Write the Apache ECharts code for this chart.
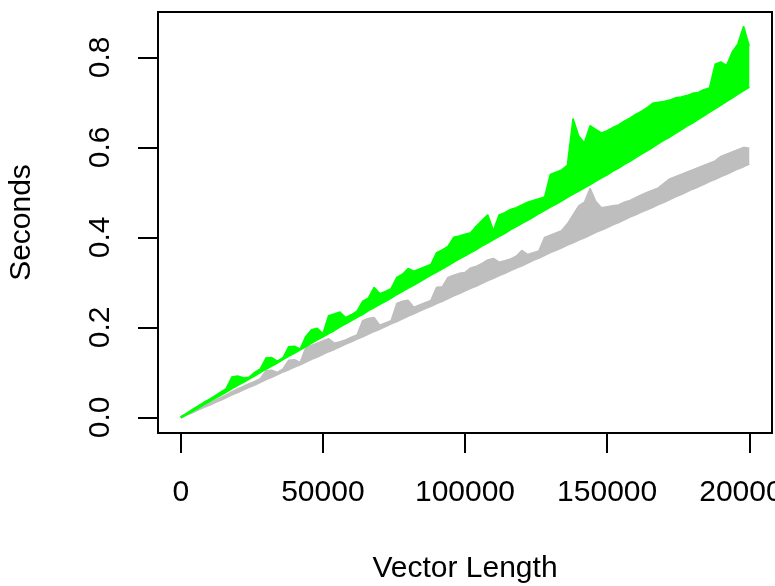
<!DOCTYPE html>
<html>
<head>
<meta charset="utf-8">
<script src="https://cdn.jsdelivr.net/npm/echarts@6/dist/echarts.min.js"></script>
<style>
  html, body { margin: 0; padding: 0; background: #fff; }
  #chart { width: 775px; height: 586px; }
</style>
</head>
<body>
<div id="chart"></div>
<script>
// vector length (x), every 2000
const vecLen = [0, 2000, 4000, 6000, 8000, 10000, 12000, 14000, 16000, 18000,
  20000, 22000, 24000, 26000, 28000, 30000, 32000, 34000, 36000, 38000,
  40000, 42000, 44000, 46000, 48000, 50000, 52000, 54000, 56000, 58000,
  60000, 62000, 64000, 66000, 68000, 70000, 72000, 74000, 76000, 78000,
  80000, 82000, 84000, 86000, 88000, 90000, 92000, 94000, 96000, 98000,
  100000, 102000, 104000, 106000, 108000, 110000, 112000, 114000, 116000, 118000,
  120000, 122000, 124000, 126000, 128000, 130000, 132000, 134000, 136000, 138000,
  140000, 142000, 144000, 146000, 148000, 150000, 152000, 154000, 156000, 158000,
  160000, 162000, 164000, 166000, 168000, 170000, 172000, 174000, 176000, 178000,
  180000, 182000, 184000, 186000, 188000, 190000, 192000, 194000, 196000, 198000,
  200000];

// green timings: lower edge and upper edge of the noisy band
const greenLow = [0, .007, .014, .021, .029, .036, .043, .050, .057, .065,
  .072, .079, .086, .093, .101, .108, .115, .122, .130, .137,
  .144, .151, .158, .166, .173, .180, .187, .194, .202, .209,
  .216, .223, .230, .238, .245, .252, .259, .266, .274, .281,
  .288, .295, .302, .310, .317, .324, .331, .338, .346, .353,
  .360, .367, .374, .382, .389, .396, .403, .410, .418, .425,
  .432, .439, .446, .454, .461, .468, .475, .482, .490, .497,
  .504, .511, .518, .526, .533, .540, .548, .555, .563, .570,
  .578, .586, .593, .601, .609, .617, .624, .632, .640, .648,
  .655, .663, .671, .679, .687, .695, .703, .711, .719, .727,
  .735];
const greenHigh = [0, .009, .017, .025, .033, .040, .048, .056, .064, .090,
  .092, .088, .089, .100, .108, .132, .133, .125, .133, .157,
  .158, .152, .180, .195, .198, .186, .226, .230, .234, .222,
  .228, .236, .258, .265, .289, .275, .280, .286, .311, .318,
  .331, .325, .330, .335, .340, .366, .372, .380, .400, .403,
  .407, .410, .425, .438, .450, .415, .450, .455, .462, .466,
  .472, .478, .482, .486, .490, .540, .545, .550, .560, .664,
  .625, .610, .648, .640, .632, .637, .644, .650, .658, .665,
  .673, .680, .688, .698, .700, .702, .705, .710, .712, .715,
  .720, .722, .728, .732, .785, .790, .782, .812, .830, .869,
  .825];

// gray timings
const grayLow = [0, .006, .011, .017, .023, .028, .034, .039, .045, .051,
  .056, .062, .068, .073, .079, .085, .090, .096, .102, .107,
  .113, .118, .124, .130, .135, .141, .147, .152, .158, .164,
  .169, .175, .180, .186, .192, .197, .203, .209, .214, .220,
  .226, .231, .237, .243, .248, .254, .259, .265, .271, .276,
  .282, .288, .293, .299, .305, .310, .316, .321, .327, .333,
  .338, .344, .350, .355, .361, .367, .372, .378, .384, .389,
  .395, .400, .406, .412, .417, .423, .429, .434, .440, .446,
  .451, .457, .462, .468, .474, .479, .485, .491, .496, .502,
  .508, .513, .519, .525, .530, .536, .541, .547, .553, .558,
  .564];
const grayHigh = [0, .007, .013, .020, .026, .032, .038, .044, .050, .057,
  .063, .069, .075, .080, .086, .104, .105, .100, .108, .127,
  .128, .122, .155, .160, .165, .170, .175, .165, .168, .172,
  .178, .183, .215, .220, .222, .205, .210, .215, .253, .258,
  .260, .245, .250, .255, .260, .289, .290, .311, .316, .320,
  .322, .332, .336, .342, .350, .353, .345, .348, .352, .358,
  .371, .362, .366, .370, .400, .405, .410, .415, .430, .450,
  .470, .478, .509, .480, .466, .468, .470, .472, .478, .482,
  .488, .494, .500, .505, .510, .520, .530, .535, .540, .545,
  .550, .555, .560, .565, .570, .580, .585, .590, .595, .600,
  .598];

const xTicks = [0, 50000, 100000, 150000, 200000];
const yTicks = [0, 0.2, 0.4, 0.6, 0.8];

const font = 'Liberation Sans';
const chart = echarts.init(document.getElementById('chart'));

// value first so that the stack runs on y, not on x
function pairs(ys) {
  return vecLen.map((x, i) => [ys[i], x]);
}
function band(lo, hi) {
  return vecLen.map((x, i) => [+(hi[i] - lo[i]).toFixed(3), x]);
}

function bandSeries(name, color, lo, hi) {
  return [
    {
      name: name,
      type: 'line',
      stack: name,
      encode: { x: 1, y: 0 },
      data: pairs(lo),
      showSymbol: false,
      lineStyle: { color: color, width: 2.5 },
      itemStyle: { color: color }
    },
    {
      name: name + ' top',
      type: 'line',
      stack: name,
      encode: { x: 1, y: 0 },
      data: band(lo, hi),
      showSymbol: false,
      lineStyle: { color: color, width: 1.5 },
      itemStyle: { color: color },
      areaStyle: { color: color, opacity: 1 }
    }
  ];
}

const option = {
  animation: false,
  grid: {
    left: 158, right: 3, top: 12, bottom: 153,
    outerBoundsMode: 'none',
    containLabel: false,
    show: true, borderColor: '#000', borderWidth: 2
  },
  xAxis: {
    type: 'value',
    min: -8000,
    max: 208000,
    name: 'Vector Length',
    nameLocation: 'middle',
    nameGap: 121,
    nameTextStyle: { fontFamily: font, fontSize: 30, color: '#000' },
    axisLine: { show: false, onZero: false },
    splitLine: { show: false },
    axisTick: { customValues: xTicks, length: 20, lineStyle: { color: '#000', width: 2 } },
    axisLabel: {
      customValues: xTicks, margin: 45,
      fontFamily: font, fontSize: 30, color: '#000',
      formatter: v => String(v)
    }
  },
  yAxis: {
    type: 'value',
    min: -0.0347,
    max: 0.9007,
    name: 'Seconds',
    nameLocation: 'middle',
    nameGap: 121,
    nameTextStyle: { fontFamily: font, fontSize: 30, color: '#000' },
    axisLine: { show: false, onZero: false },
    splitLine: { show: false },
    axisTick: { customValues: yTicks, length: 20, lineStyle: { color: '#000', width: 2 } },
    axisLabel: {
      customValues: yTicks, margin: 42, rotate: 90,
      fontFamily: font, fontSize: 30, color: '#000',
      formatter: v => v.toFixed(1)
    }
  },
  series: [].concat(
    bandSeries('gray', '#bebebe', grayLow, grayHigh),
    bandSeries('green', '#00ff00', greenLow, greenHigh)
  )
};
chart.setOption(option);
</script>
</body>
</html>
